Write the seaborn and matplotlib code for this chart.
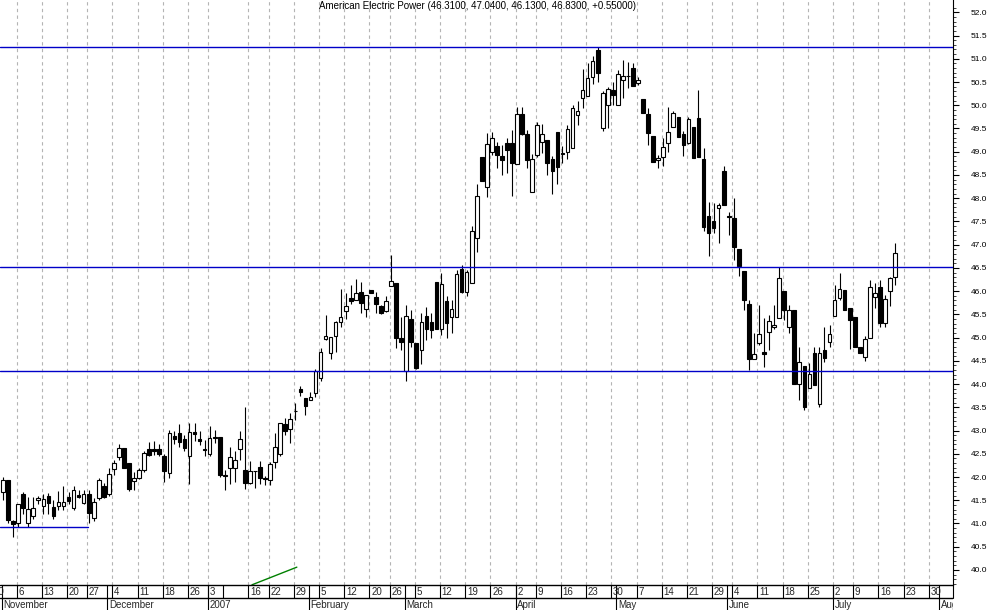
import numpy as np
import pandas as pd
import seaborn as sns
import matplotlib.pyplot as plt
from matplotlib.lines import Line2D

# =============================
#  Données
# =============================
titre = "American Electric Power (46.3100, 47.0400, 46.1300, 46.8300, +0.55000)"

# séances du 1er novembre 2006 au 19 juillet 2007
opens = [
    41.68, 41.94, 41.06, 41.00, 41.63, 41.00, 41.16, 41.51, 41.37, 41.60,
    41.35, 41.37, 41.37, 41.56, 41.33, 41.62, 41.44, 41.64, 41.12, 41.55,
    41.80, 41.64, 42.17, 42.43, 42.62, 42.30, 41.92, 41.98, 42.16, 42.60,
    42.60, 42.60, 42.45, 42.08, 42.88, 42.95, 42.82, 42.45, 42.97, 42.81,
    42.61, 42.50, 42.87, 42.86, 42.04, 42.20, 42.20, 42.60, 42.16, 41.87,
    42.14, 42.22, 41.98, 41.94, 42.32, 42.50, 43.15, 43.04, 43.43, 43.90,
    43.69, 43.66, 43.80, 44.13, 44.97, 44.67, 45.03, 45.33, 45.57, 45.85,
    45.80, 45.98, 45.62, 46.02, 45.87, 45.68, 45.57, 46.12, 46.17, 45.00,
    44.28, 45.40, 44.88, 44.73, 45.46, 45.33, 46.20, 45.18, 45.78, 45.45,
    45.45, 46.47, 45.98, 46.18, 47.14, 48.88, 48.24, 48.99, 49.12, 48.90,
    49.19, 49.19, 48.73, 49.81, 49.38, 48.13, 48.93, 49.21, 49.25, 48.84,
    49.42, 48.98, 48.99, 49.07, 49.79, 50.16, 50.20, 50.61, 51.19, 49.50,
    50.00, 50.33, 50.00, 50.54, 50.64, 50.80, 50.48, 50.13, 49.81, 49.33,
    48.83, 48.88, 49.19, 49.53, 49.75, 49.38, 49.19, 49.53, 49.73, 48.84,
    47.62, 47.51, 47.79, 48.58, 47.61, 47.57, 46.90, 46.43, 45.72, 44.54,
    44.88, 44.69, 45.12, 45.23, 45.43, 46.00, 45.22, 45.60, 44.00, 44.38,
    43.92, 44.67, 43.57, 44.73, 44.90, 45.46, 45.85, 46.02, 45.64, 45.44,
    44.80, 44.58, 44.99, 45.87, 46.09, 45.31, 46.00, 46.31,
]
highs = [
    42.00, 41.94, 41.08, 41.42, 41.67, 41.57, 41.57, 41.60, 41.63, 41.66,
    41.50, 41.70, 41.80, 41.68, 41.80, 41.73, 41.73, 41.73, 41.55, 41.98,
    41.88, 42.20, 42.37, 42.70, 42.62, 42.30, 42.10, 42.20, 42.57, 42.75,
    42.77, 42.70, 42.50, 43.02, 42.98, 43.14, 42.90, 43.17, 43.17, 42.99,
    42.80, 43.10, 43.02, 42.86, 42.15, 42.65, 42.57, 43.00, 43.50, 42.35,
    42.14, 42.35, 42.03, 42.32, 42.94, 43.17, 43.26, 43.37, 43.60, 43.95,
    43.69, 43.84, 44.33, 44.78, 45.48, 45.01, 45.36, 46.05, 45.97, 46.13,
    46.26, 46.20, 45.92, 46.02, 45.98, 45.70, 45.90, 46.78, 46.17, 45.44,
    45.70, 45.60, 44.88, 45.53, 45.65, 45.53, 46.20, 46.40, 45.90, 45.80,
    46.45, 46.56, 46.45, 47.40, 48.30, 48.88, 49.40, 49.43, 49.20, 49.15,
    49.30, 49.46, 49.96, 49.96, 49.46, 48.95, 49.64, 49.60, 49.25, 48.90,
    49.42, 49.13, 49.57, 50.00, 50.10, 50.78, 50.90, 51.06, 51.25, 50.30,
    50.39, 50.50, 50.75, 50.97, 50.93, 50.90, 50.60, 50.13, 49.94, 49.33,
    48.93, 49.30, 49.96, 49.87, 49.75, 49.45, 49.75, 49.53, 50.33, 49.08,
    47.92, 47.90, 47.90, 48.70, 47.70, 48.00, 46.90, 46.43, 45.80, 45.10,
    45.70, 45.42, 45.48, 45.70, 46.52, 46.00, 45.70, 45.60, 44.79, 44.38,
    44.46, 44.80, 44.79, 45.23, 45.27, 46.13, 46.38, 46.02, 45.64, 45.44,
    44.80, 45.03, 46.24, 46.17, 46.24, 45.92, 46.31, 47.04,
]
lows = [
    41.50, 41.00, 40.71, 40.93, 41.20, 40.93, 41.10, 41.42, 41.20, 41.20,
    41.10, 41.30, 41.30, 41.42, 41.30, 41.55, 41.42, 41.00, 41.05, 41.50,
    41.55, 41.60, 42.05, 42.36, 42.19, 41.70, 41.72, 41.96, 42.10, 42.45,
    42.48, 42.45, 41.90, 41.98, 42.72, 42.64, 42.55, 41.84, 42.77, 42.68,
    42.45, 42.45, 42.73, 42.00, 41.71, 41.85, 41.90, 42.37, 41.75, 41.85,
    41.76, 41.85, 41.83, 41.82, 42.20, 42.45, 42.90, 42.74, 43.23, 43.75,
    43.33, 43.65, 43.72, 44.06, 44.95, 44.53, 44.70, 45.22, 45.40, 45.73,
    45.80, 45.52, 45.45, 45.96, 45.52, 45.50, 45.55, 46.10, 44.78, 44.73,
    44.07, 44.80, 44.33, 44.43, 44.95, 44.99, 45.18, 45.05, 45.00, 45.10,
    45.45, 45.96, 45.89, 46.18, 46.84, 48.37, 48.02, 48.93, 48.65, 48.50,
    48.55, 48.05, 48.73, 49.36, 48.65, 48.13, 48.88, 48.97, 48.50, 48.10,
    48.30, 48.75, 48.85, 49.07, 49.57, 49.95, 50.20, 50.45, 50.50, 49.45,
    49.50, 50.00, 50.00, 50.16, 50.37, 50.41, 50.43, 49.83, 49.15, 48.78,
    48.65, 48.70, 48.99, 49.53, 49.31, 48.91, 49.17, 48.86, 48.88, 47.29,
    46.76, 47.25, 47.04, 47.86, 47.20, 46.68, 46.33, 45.59, 44.30, 44.54,
    44.85, 44.36, 44.74, 45.18, 45.43, 45.38, 45.10, 44.00, 43.65, 43.44,
    43.92, 43.98, 43.50, 44.47, 44.80, 45.46, 45.80, 45.60, 44.75, 44.80,
    44.67, 44.50, 44.99, 45.63, 45.22, 45.22, 45.67, 46.13,
]
closes = [
    41.94, 41.08, 40.98, 41.41, 41.33, 41.31, 41.33, 41.55, 41.52, 41.44,
    41.17, 41.46, 41.46, 41.48, 41.72, 41.58, 41.64, 41.22, 41.46, 41.94,
    41.57, 42.06, 42.30, 42.62, 42.19, 41.74, 41.98, 42.15, 42.52, 42.48,
    42.55, 42.50, 42.13, 42.95, 42.82, 42.75, 42.62, 42.97, 42.93, 42.77,
    42.59, 42.85, 42.85, 42.05, 42.02, 42.42, 42.37, 42.82, 41.87, 42.13,
    42.12, 41.98, 41.96, 42.28, 42.65, 43.17, 42.98, 43.24, 43.41, 43.83,
    43.53, 43.73, 44.28, 44.69, 45.03, 45.01, 45.33, 45.44, 45.68, 45.78,
    45.96, 45.74, 45.92, 45.97, 45.72, 45.53, 45.78, 46.21, 45.00, 44.90,
    45.46, 44.90, 44.35, 45.33, 45.18, 45.16, 45.19, 46.15, 45.31, 45.62,
    46.37, 45.98, 46.41, 47.30, 48.05, 48.37, 49.16, 49.29, 48.93, 48.82,
    49.04, 48.76, 49.81, 49.38, 48.82, 48.85, 49.58, 49.38, 48.76, 48.58,
    48.67, 48.96, 49.49, 49.94, 49.87, 50.33, 50.59, 50.95, 50.69, 50.26,
    50.35, 50.22, 50.67, 50.63, 50.62, 50.41, 50.54, 49.83, 49.40, 48.78,
    48.86, 49.10, 49.42, 49.83, 49.31, 49.14, 49.70, 48.86, 48.88, 47.38,
    47.25, 47.36, 47.86, 47.86, 47.59, 46.94, 46.55, 45.80, 44.54, 44.64,
    45.08, 44.64, 45.35, 45.27, 46.28, 45.60, 45.60, 44.00, 44.47, 43.50,
    44.22, 43.98, 44.67, 44.56, 45.08, 45.80, 46.04, 45.60, 45.38, 44.80,
    44.67, 44.97, 46.09, 45.95, 45.31, 45.83, 46.28, 46.83,
]

# niveaux horizontaux tracés sur le graphique
niveaux = [51.25, 46.52, 44.28]
niveau_court = 40.92           # ligne courte de novembre
trend_idx = [49.4, 58.3]       # ligne de tendance verte (en séances)
trend_val = [39.68, 40.06]

jours_feries = ["2006-11-23", "2006-12-25", "2007-01-01", "2007-01-02", "2007-01-15",
                "2007-02-19", "2007-04-06", "2007-05-28", "2007-07-04"]
mois_noms = ["November", "December", "2007", "February", "March", "April",
             "May", "June", "July", "August"]
semaine_sans_label = ["2007-01-08"]

# =============================
#  Calendrier des séances
# =============================
jours = pd.bdate_range("2006-10-30", "2007-08-10")
jours = jours[~jours.isin(pd.to_datetime(jours_feries))]
cal = pd.DataFrame({"date": jours})
cal["pos"] = np.arange(len(cal)) - 2          # 0 = 1er novembre 2006
cal["semaine"] = cal["date"].dt.to_period("W")
cal["mois"] = cal["date"].dt.to_period("M")
debuts_semaine = cal.groupby("semaine").first().reset_index()
debuts_mois = cal.groupby("mois").first().reset_index()
debuts_mois = debuts_mois[debuts_mois["pos"] >= 0].reset_index(drop=True)

df = pd.DataFrame({"open": opens, "high": highs, "low": lows, "close": closes})
df["idx"] = np.arange(len(df))
hausse = df["close"] >= df["open"]

# =============================
#  Figure
# =============================
sns.set_theme(style="white")
plt.rcParams["font.family"] = ["Liberation Sans", "DejaVu Sans"]

W, H = 994, 610
fig = plt.figure(figsize=(W / 100, H / 100), dpi=100)
ax = fig.add_axes([0, 25 / H, 953 / W, 585 / H])
bande = fig.add_axes([0, 0, 953 / W, 25 / H])

xmin, xmax = -0.6, 188.5
ax.set_xlim(xmin, xmax)
ax.set_ylim(39.676, 52.265)

# grille verticale pointillée (début de chaque semaine)
for _, r in debuts_semaine.iterrows():
    if str(r["date"].date()) in semaine_sans_label:
        continue
    ax.axvline(r["pos"] - 0.3, color="#b4b4b4", lw=0.8, ls=(0, (3, 3)), zorder=0)

# bougies
ax.vlines(df["idx"], df["low"], df["high"], color="black", lw=0.8, zorder=3)
bas = np.minimum(df["open"], df["close"])
haut = np.maximum(np.abs(df["close"] - df["open"]), 0.015)
ax.bar(df["idx"], haut, bottom=bas, width=0.72,
       color=np.where(hausse, "white", "black"), edgecolor="black",
       linewidth=0.8, zorder=4)

# niveaux horizontaux
for v in niveaux:
    ax.axhline(v, color="#0000c8", lw=1, zorder=5)
ax.plot([xmin, 16.9], [niveau_court, niveau_court], color="#0000c8", lw=1, zorder=5)
sns.lineplot(x=trend_idx, y=trend_val, ax=ax, color="#008000", lw=1, zorder=5)

# axe des prix à droite
ax.yaxis.tick_right()
ax.set_yticks(np.arange(40, 52.01, 0.5))
ax.set_yticks(np.arange(39.7, 52.2, 0.1), minor=True)
ax.yaxis.set_major_formatter(plt.FormatStrFormatter("%.1f"))
ax.tick_params(axis="y", which="major", length=4.3, width=0.8, pad=8.5,
               labelsize=6, colors="black", right=True, left=False)
ax.tick_params(axis="y", which="minor", length=2.2, width=0.6, right=True, left=False)
ax.set_xticks([])
for s in ["top", "left", "bottom"]:
    ax.spines[s].set_visible(False)
ax.spines["right"].set_color("black")
ax.spines["right"].set_linewidth(0.8)
ax.set_facecolor("white")

# prolongement de l'axe vertical jusqu'à la séparation de la bande des dates
fig.add_artist(Line2D([953 / W, 953 / W], [12 / H, 25 / H], color="black", lw=0.8))

ax.text(0.5 * (xmin + xmax) + 0.2, 52.14, titre, ha="center", va="center",
        fontsize=7, color="black")

# bande des dates
bande.set_xlim(xmin, xmax)
bande.set_ylim(0, 1)
bande.axis("off")
bande.plot([xmin, xmax], [1, 1], color="black", lw=1, clip_on=False)
bande.plot([xmin, xmax], [0.48, 0.48], color="black", lw=1)
for _, r in debuts_semaine.iterrows():
    x = r["pos"] - 0.3
    bande.plot([x, x], [0.48, 1], color="black", lw=0.8)
    if str(r["date"].date()) in semaine_sans_label:
        continue
    bande.text(x + 0.35, 0.72, str(r["date"].day), ha="left", va="center",
               fontsize=7, clip_on=True)
for k, r in debuts_mois.iterrows():
    x = r["pos"] - 0.3
    bande.plot([x, x], [0, 1], color="black", lw=0.8)
    bande.text(x + 0.35, 0.22, mois_noms[k], ha="left", va="center",
               fontsize=7, clip_on=True)

fig.savefig("out.png", dpi=100)
